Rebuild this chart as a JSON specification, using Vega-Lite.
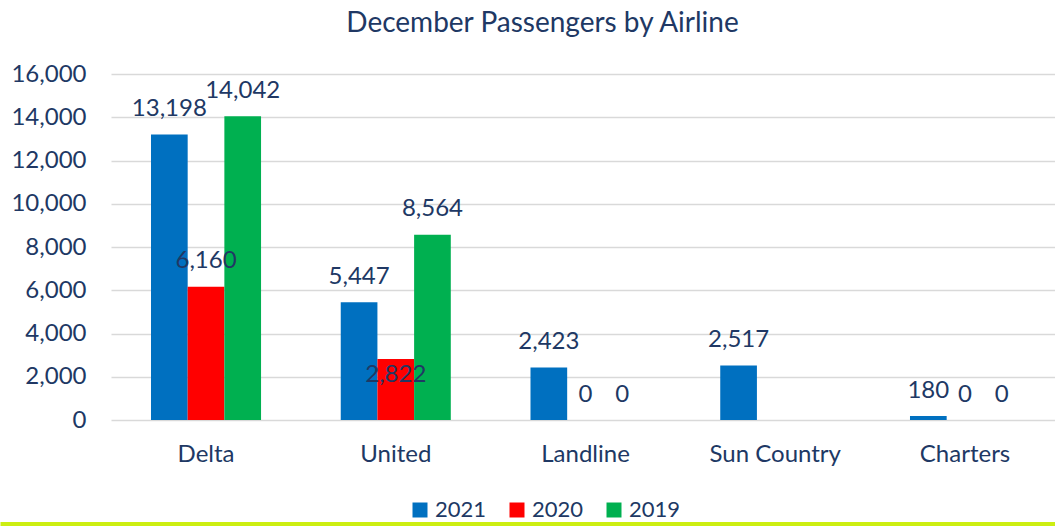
{
  "$schema": "https://vega.github.io/schema/vega-lite/v6.json",
  "width": 1055,
  "height": 346,
  "autosize": {"type": "none"},
  "padding": {"left": 0, "top": 74, "right": 0, "bottom": 106},
  "background": "white",
  "config": {
    "view": {"stroke": null},
    "font": "Lato",
    "text": {"font": "Lato"}
  },
  "title": {
    "text": "December Passengers by Airline",
    "anchor": "middle",
    "frame": "group",
    "dx": 15,
    "font": "Lato",
    "fontSize": 28,
    "fontWeight": "normal",
    "color": "#203864",
    "baseline": "alphabetic",
    "offset": 2
  },
  "data": {
    "values": [
      {"airline": "Delta", "year": "2021", "passengers": 13198},
      {"airline": "Delta", "year": "2020", "passengers": 6160},
      {"airline": "Delta", "year": "2019", "passengers": 14042},
      {"airline": "United", "year": "2021", "passengers": 5447},
      {"airline": "United", "year": "2020", "passengers": 2822},
      {"airline": "United", "year": "2019", "passengers": 8564},
      {"airline": "Landline", "year": "2021", "passengers": 2423},
      {"airline": "Landline", "year": "2020", "passengers": 0},
      {"airline": "Landline", "year": "2019", "passengers": 0},
      {"airline": "Sun Country", "year": "2021", "passengers": 2517},
      {"airline": "Charters", "year": "2021", "passengers": 180},
      {"airline": "Charters", "year": "2020", "passengers": 0},
      {"airline": "Charters", "year": "2019", "passengers": 0}
    ]
  },
  "encoding": {
    "x": {
      "field": "airline",
      "type": "nominal",
      "sort": ["Delta", "United", "Landline", "Sun Country", "Charters"],
      "scale": {"paddingInner": 0.42, "paddingOuter": 0.49, "align": 0.812},
      "axis": {
        "orient": "bottom",
        "title": null,
        "offset": 104,
        "domain": true,
        "domainColor": "#CCEE11",
        "domainWidth": 5,
        "ticks": false,
        "grid": false,
        "labelAngle": 0,
        "labelPadding": -82,
        "labelFont": "Lato",
        "labelFontSize": 24,
        "labelColor": "#203864"
      }
    },
    "xOffset": {
      "field": "year",
      "type": "nominal",
      "sort": ["2021", "2020", "2019"],
      "scale": {"paddingInner": 0, "paddingOuter": 0}
    },
    "y": {
      "field": "passengers",
      "type": "quantitative",
      "scale": {"domain": [0, 16000], "nice": false},
      "axis": {
        "title": null,
        "values": [0, 2000, 4000, 6000, 8000, 10000, 12000, 14000, 16000],
        "format": ",d",
        "offset": -111,
        "domain": false,
        "ticks": false,
        "labelPadding": 25,
        "labelFont": "Lato",
        "labelFontSize": 24,
        "labelColor": "#203864",
        "grid": true,
        "gridColor": "#D9D9D9",
        "gridWidth": 1.5,
        "gridDash": [944, 111],
        "gridDashOffset": 944
      }
    }
  },
  "layer": [
    {
      "mark": {"type": "bar"},
      "encoding": {
        "color": {
          "field": "year",
          "type": "nominal",
          "sort": ["2021", "2020", "2019"],
          "scale": {"domain": ["2021", "2020", "2019"], "range": ["#0070C0", "#FF0000", "#00B050"]},
          "legend": {
            "orient": "none",
            "legendX": 409,
            "legendY": 425,
            "direction": "horizontal",
            "title": null,
            "symbolType": "square",
            "symbolSize": 225,
            "symbolStrokeWidth": 0,
            "symbolOpacity": 1,
            "labelFont": "Lato",
            "labelFontSize": 22,
            "labelColor": "#203864",
            "labelOffset": 4,
            "columnPadding": 19,
            "padding": 0
          }
        }
      }
    },
    {
      "transform": [{"filter": "!(datum.airline === 'United' && datum.year === '2020')"}],
      "mark": {"type": "text", "baseline": "alphabetic", "dy": -18.5, "fontSize": 24, "font": "Lato", "color": "#203864"},
      "encoding": {"text": {"field": "passengers", "type": "quantitative", "format": ",d"}}
    },
    {
      "transform": [{"filter": "datum.airline === 'United' && datum.year === '2020'"}],
      "mark": {"type": "text", "baseline": "alphabetic", "dy": 23.5, "fontSize": 24, "font": "Lato", "color": "#203864"},
      "encoding": {"text": {"field": "passengers", "type": "quantitative", "format": ",d"}}
    }
  ]
}
